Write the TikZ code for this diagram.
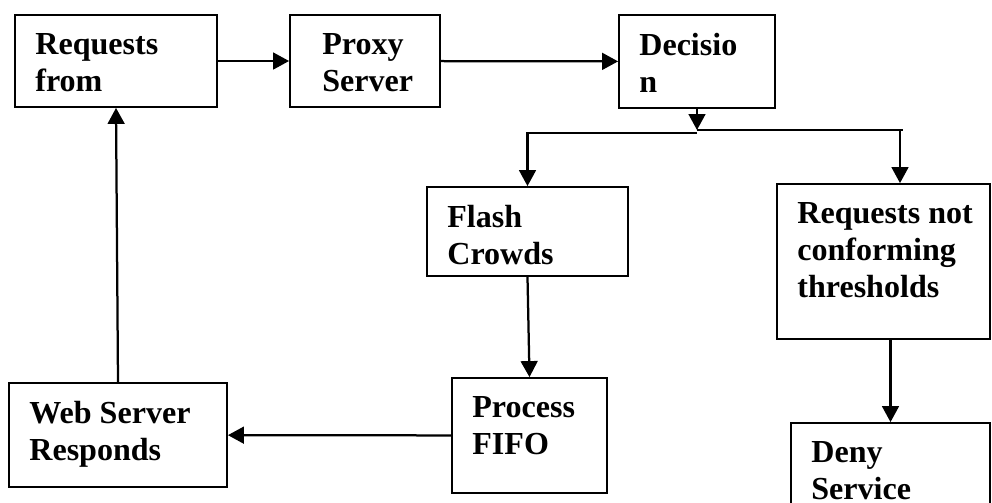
\documentclass[tikz,border=0pt]{standalone}
\usepackage{fontspec}
\setmainfont{Liberation Serif}
\usetikzlibrary{arrows.meta}
\begin{document}
\begin{tikzpicture}[x=0.025cm,y=-0.025cm,
    box/.style={draw,line width=1.3pt,inner sep=0pt},
    txt/.style={anchor=north west,inner sep=0pt,align=left,font=\fontsize{22.8pt}{26.3pt}\selectfont\bfseries},
    ln/.style={line width=1.6pt},
    arr/.style={ln,-{Triangle[length=0.4cm,width=0.42cm]}}]
    \useasboundingbox (0,0) rectangle (992,502);
    % boxes
    \node [box,minimum width=202*0.025cm,minimum height=92*0.025cm] (req) at (116,61) {};
    \node [box,minimum width=150*0.025cm,minimum height=92*0.025cm] (proxy) at (365,61) {};
    \node [box,minimum width=156*0.025cm,minimum height=93*0.025cm] (dec) at (697,61.5) {};
    \node [box,minimum width=201*0.025cm,minimum height=89*0.025cm] (flash) at (527.5,231.5) {};
    \node [box,minimum width=213*0.025cm,minimum height=155*0.025cm] (reqnot) at (883.5,261.5) {};
    \node [box,minimum width=155*0.025cm,minimum height=115*0.025cm] (process) at (529.5,435.5) {};
    \node [box,minimum width=218*0.025cm,minimum height=104*0.025cm] (web) at (118,435) {};
    \node [box,minimum width=199*0.025cm,minimum height=122*0.025cm] (deny) at (890.5,484) {};
    % texts
    \node [txt] (reqtext) at ([shift={(21,19)}]req.north west) {Requests\\from};
    \node [txt] (proxytext) at ([shift={(33,19)}]proxy.north west) {Proxy\\Server};
    \node [txt] (dectext) at ([shift={(21,19)}]dec.north west) {Decisio\\n};
    \node [txt] (flashtext) at ([shift={(21,19)}]flash.north west) {Flash\\Crowds};
    \node [txt] (reqnottext) at ([shift={(21,19)}]reqnot.north west) {Requests not\\conforming\\thresholds};
    \node [txt] (processtext) at ([shift={(21,19)}]process.north west) {Process\\FIFO};
    \node [txt] (webtext) at ([shift={(21,19)}]web.north west) {Web Server\\Responds};
    \node [txt] (denytext) at ([shift={(21,19)}]deny.north west) {Deny\\Service};
    % split under decision
    \coordinate (split) at (697,130);
    \coordinate (leftsplit) at (697,133);
    \coordinate (rightend) at (903,130);
    \coordinate (rightdrop) at (900,130);
    % arrows
    \draw [arr] (req) -- (proxy);
    \draw [arr] (proxy) -- (dec);
    \draw [arr] (dec.south) -- (split);
    \draw [arr] (leftsplit) -| (flash.north);
    \draw [ln] (split) -- (rightend);
    \draw [arr] (rightdrop) -- (rightdrop |- reqnot.north);
    \draw [arr] (flash.south) -- (process.north);
    \draw [arr] (process) -- (web);
    \draw [arr] (web.north) -- (req.south);
    \draw [arr] (deny.north |- reqnot.south) -- (deny.north);
\end{tikzpicture}
\end{document}
